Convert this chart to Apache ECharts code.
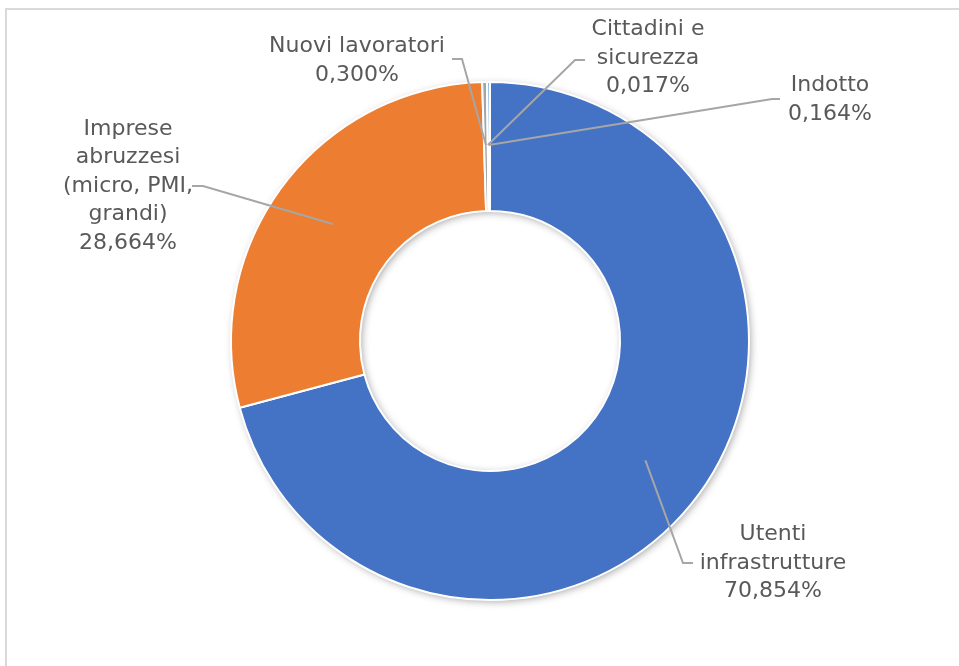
<!DOCTYPE html>
<html>
<head>
<meta charset="utf-8">
<script src="https://cdn.jsdelivr.net/npm/echarts@6/dist/echarts.min.js"></script>
<style>
html,body{margin:0;padding:0;background:#fff;}
#chart{width:959px;height:666px;}
</style>
</head>
<body>
<div id="chart"></div>
<script>
const categories = ['Utenti\ninfrastrutture', 'Imprese\nabruzzesi\n(micro, PMI,\ngrandi)', 'Nuovi lavoratori', 'Cittadini e\nsicurezza', 'Indotto'];
const values = [70.854, 28.664, 0.300, 0.017, 0.164];
const colors = ['#4472C4', '#ED7D31', '#A5A5A5', '#FFC000', '#5B9BD5'];

const CX = 490, CY = 341, R_OUT = 259, R_IN = 130;
const R_MID = 196;
// label placement (style): centre of label block and leader line bends
const labelPos = [
  {x: 773, y: 563, bend: [[683, 563], [693, 563]]},
  {x: 128, y: 186, bend: [[203, 186], [192, 186]]},
  {x: 357, y: 61, bend: [[462, 59], [452, 59]]},
  {x: 648, y: 58, bend: [[575, 60], [585, 60]]},
  {x: 830, y: 100, bend: [[772, 99], [780, 99]]}
];

const pieData = categories.map((c, i) => ({name: c, value: values[i], itemStyle: {color: colors[i]}}));
const plainData = categories.map((c, i) => ({name: c, value: values[i]}));

const common = {
  type: 'pie',
  center: [CX, CY],
  startAngle: 90,
  clockwise: true,
  silent: true
};

const chart = echarts.init(document.getElementById('chart'));
chart.setOption({
  animation: false,
  backgroundColor: '#fff',
  graphic: [{
    type: 'polyline',
    shape: {points: [[6, 680], [6, 9], [970, 9]]},
    style: {stroke: '#D9D9D9', lineWidth: 2, fill: null},
    silent: true
  }],
  series: [Object.assign({}, common, {
    // soft shadow under the whole ring
    z: 1,
    radius: [R_IN + 1, R_OUT - 1],
    data: plainData,
    itemStyle: {
      color: '#ffffff',
      borderWidth: 0,
      shadowBlur: 8,
      shadowColor: 'rgba(0,0,0,0.4)',
      shadowOffsetX: 2,
      shadowOffsetY: 2
    },
    label: {show: false},
    labelLine: {show: false}
  }), Object.assign({}, common, {
    z: 2,
    radius: [R_IN, R_OUT],
    data: pieData,
    itemStyle: {borderColor: '#fff', borderWidth: 2},
    label: {show: false},
    labelLine: {show: false}
  }), Object.assign({}, common, {
    zlevel: 1,
    z: 5,
    radius: [R_MID - 1, R_MID],
    avoidLabelOverlap: false,
    data: plainData,
    itemStyle: {color: 'rgba(0,0,0,0)', borderWidth: 0},
    label: {
      show: true,
      formatter: p => p.name + '\n' + p.value.toFixed(3).replace('.', ',') + '%',
      color: '#595959',
      fontFamily: 'DejaVu Sans',
      fontSize: 22,
      lineHeight: 28.5,
      align: 'center'
    },
    labelLine: {
      show: true,
      showAbove: true,
      lineStyle: {color: '#A6A6A6', width: 2}
    },
    labelLayout: function (params) {
      const lp = labelPos[params.dataIndex];
      const p0 = params.labelLinePoints ? params.labelLinePoints[0] : [CX, CY];
      return {
        x: lp.x,
        y: lp.y,
        align: 'center',
        verticalAlign: 'middle',
        labelLinePoints: [p0, lp.bend[0], lp.bend[1]]
      };
    }
  })]
});
</script>
</body>
</html>
